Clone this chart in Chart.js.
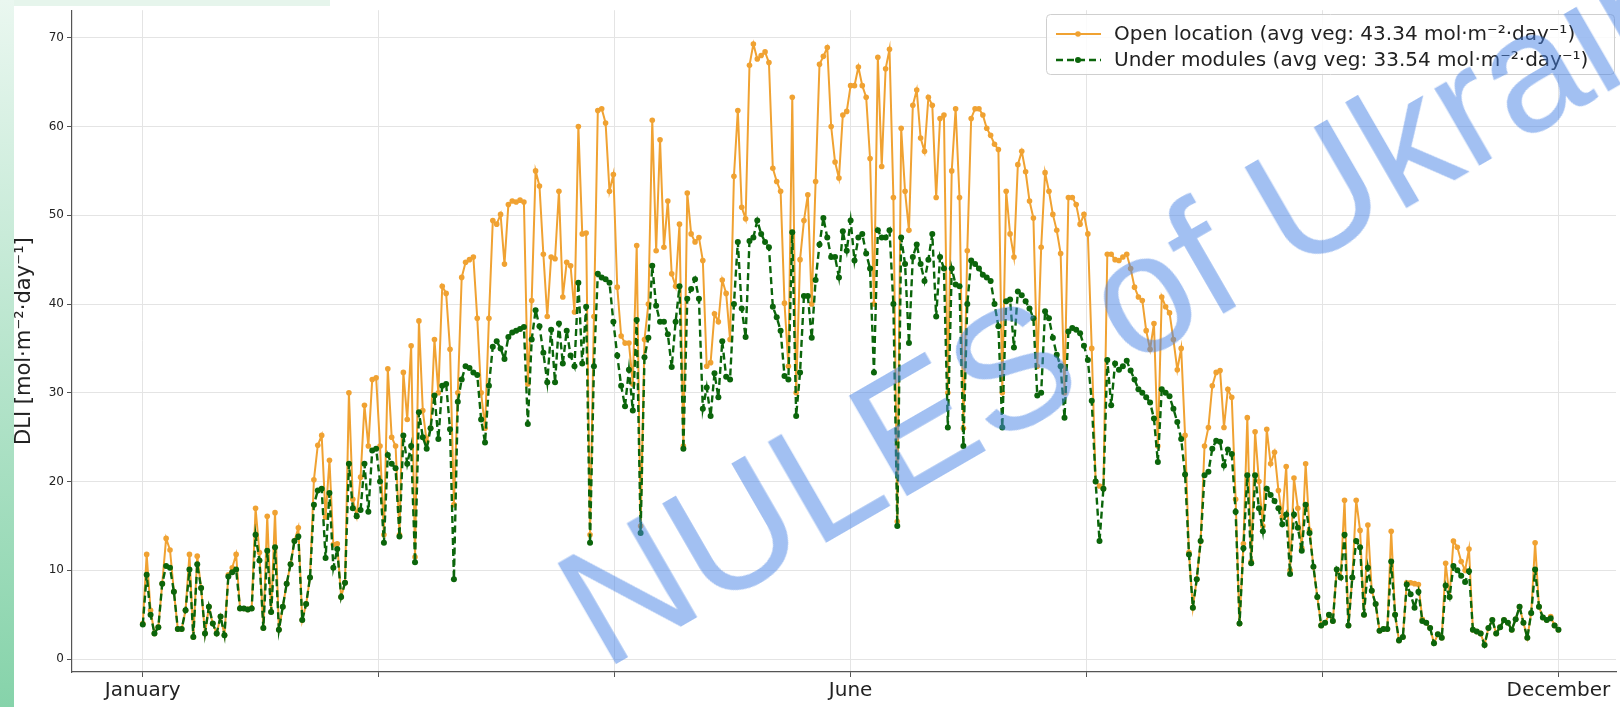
<!DOCTYPE html>
<html>
<head>
<meta charset="utf-8">
<script src="https://cdn.jsdelivr.net/npm/chart.js@4.4.1/dist/chart.umd.min.js"></script>
<style>
    html, body { margin: 0; padding: 0; background: #fff; }
    #wrap { position: relative; width: 1620px; height: 707px; overflow: hidden; background: #fff; }
    #dliChart { position: absolute; left: 0; top: 0; }
    #strip { position: absolute; left: 0; top: 0; width: 14px; height: 707px; background: linear-gradient(#eaf7f0, #86d3aa); }
    #band { position: absolute; left: 0; top: 0; width: 330px; height: 6px; background: #e6f5ec; }
    #mark {
        position: absolute; left: 604px; top: 529px;
        font: 168px "Liberation Sans", Arial, sans-serif; line-height: 1;
        color: rgba(70, 130, 230, 0.5); white-space: nowrap;
        transform-origin: 0 142px; transform: rotate(-30deg);
        pointer-events: none;
    }
</style>
</head>
<body>
<div id="wrap">
    <div id="band"></div>
    <div id="strip"></div>
    <canvas id="dliChart" width="1620" height="707"></canvas>
    <div id="mark">NULES of Ukraine</div>
</div>
<script>
// daily DLI, Jan 1 .. Dec 31
const openLocation = [
    4.0, 11.8, 5.5, 2.9, 3.6, 8.5, 13.6, 12.3, 7.6, 3.4,
    3.4, 5.5, 11.8, 2.5, 11.6, 8.0, 2.9, 5.9, 4.0, 2.9,
    4.8, 2.7, 9.5, 10.3, 11.8, 5.7, 5.7, 5.6, 5.7, 17.0,
    12.0, 3.5, 16.1, 5.3, 16.5, 3.3, 5.9, 8.5, 10.7, 13.3,
    14.8, 4.4, 6.2, 9.2, 20.2, 24.1, 25.2, 16.0, 22.4, 12.9,
    13.0, 7.0, 8.6, 30.0, 18.0, 16.1, 20.5, 28.6, 24.0, 31.5,
    31.7, 24.0, 14.0, 32.7, 25.0, 24.0, 14.0, 32.3, 27.0, 35.3,
    11.5, 38.1, 28.0, 24.5, 26.0, 36.0, 30.0, 42.0, 41.2, 34.9,
    17.4, 30.0, 43.0, 44.7, 45.0, 45.3, 38.4, 30.0, 26.0, 38.4,
    49.4, 49.0, 50.1, 44.5, 51.2, 51.6, 51.5, 51.7, 51.5, 31.0,
    40.4, 55.0, 53.3, 45.6, 38.6, 45.3, 45.1, 52.7, 40.8, 44.7,
    44.3, 39.1, 60.0, 47.9, 48.0, 14.0, 38.6, 61.8, 62.0, 60.4,
    52.7, 54.6, 41.9, 36.4, 35.6, 35.6, 31.0, 46.6, 15.0, 36.0,
    40.0, 60.7, 46.0, 58.5, 46.4, 51.6, 43.4, 42.0, 49.0, 24.0,
    52.5, 47.9, 47.0, 47.5, 44.9, 33.0, 33.4, 38.9, 38.0, 42.7,
    41.2, 36.0, 54.4, 61.8, 50.9, 49.6, 66.9, 69.3, 67.6, 68.0,
    68.4, 67.2, 55.3, 53.8, 52.7, 40.1, 33.0, 63.3, 30.0, 45.0,
    49.4, 52.3, 40.0, 53.8, 67.0, 67.9, 68.9, 60.0, 56.0, 54.2,
    61.3, 61.7, 64.6, 64.6, 66.7, 64.6, 63.3, 56.4, 40.0, 67.8,
    55.5, 66.5, 68.7, 52.0, 15.5, 59.8, 52.7, 48.3, 62.4, 64.1,
    58.7, 57.2, 63.3, 62.4, 52.0, 60.9, 61.3, 30.0, 55.0, 62.0,
    52.0, 26.0, 46.0, 60.9, 62.0, 62.0, 61.3, 59.8, 59.0, 58.0,
    57.4, 30.0, 52.7, 47.9, 45.3, 55.7, 57.2, 54.9, 51.6, 49.7,
    33.0, 46.4, 54.8, 52.7, 50.1, 48.3, 45.7, 30.0, 52.0, 52.0,
    51.2, 49.0, 50.1, 47.9, 35.0, 20.0, 19.5, 19.2, 45.6, 45.6,
    45.0, 44.9, 45.3, 45.6, 44.0, 41.9, 40.8, 40.4, 37.0, 34.9,
    37.8, 24.0, 40.8, 39.7, 39.0, 36.0, 32.6, 35.0, 25.2, 12.0,
    5.8, 9.0, 13.3, 24.0, 26.1, 30.8, 32.3, 32.5, 26.1, 30.4,
    29.5, 18.0, 4.0, 13.0, 27.2, 11.0, 25.6, 20.0, 15.0, 25.9,
    22.0, 23.3, 19.0, 16.0, 21.7, 10.0, 20.4, 17.0, 12.5, 22.0,
    14.5, 10.4, 7.0, 3.8, 4.1, 5.0, 4.3, 10.1, 9.2, 17.9,
    3.8, 9.2, 17.9, 14.5, 5.0, 15.1, 7.7, 6.2, 3.2, 3.4,
    3.4, 14.4, 5.0, 2.1, 2.5, 8.6, 8.6, 8.5, 8.4, 4.5,
    4.1, 3.5, 1.8, 2.8, 2.4, 10.8, 7.0, 13.3, 12.6, 11.0,
    10.0, 12.4, 3.3, 3.1, 2.9, 1.6, 3.5, 4.4, 2.9, 3.6,
    4.4, 4.1, 3.3, 4.5, 5.9, 4.1, 2.4, 5.2, 13.1, 5.9,
    4.7, 4.4, 4.8, 3.8, 3.3
];

const underModules = [
    3.9, 9.5, 5.0, 2.9, 3.6, 8.5, 10.5, 10.3, 7.6, 3.4,
    3.4, 5.5, 10.1, 2.5, 10.7, 8.0, 2.9, 5.9, 4.0, 2.9,
    4.8, 2.7, 9.3, 9.8, 10.1, 5.7, 5.7, 5.6, 5.7, 14.0,
    11.1, 3.5, 12.2, 5.3, 12.6, 3.3, 5.9, 8.5, 10.7, 13.3,
    13.8, 4.4, 6.2, 9.2, 17.4, 19.0, 19.2, 11.4, 18.7, 10.3,
    12.4, 7.0, 8.6, 22.0, 17.0, 16.1, 16.8, 22.0, 16.6, 23.5,
    23.7, 20.0, 13.1, 23.0, 22.0, 21.5, 13.8, 25.2, 22.0, 24.0,
    10.9, 27.8, 25.0, 23.7, 26.0, 29.7, 24.8, 30.8, 31.0, 25.9,
    9.0, 29.0, 31.5, 33.0, 32.8, 32.3, 32.0, 27.0, 24.4, 30.8,
    35.2, 35.8, 35.0, 33.8, 36.3, 36.8, 37.0, 37.2, 37.4, 26.5,
    36.0, 39.3, 37.5, 34.5, 31.2, 37.1, 31.2, 37.8, 33.3, 37.0,
    34.2, 33.0, 42.4, 33.3, 39.7, 13.1, 33.0, 43.4, 43.0, 42.8,
    42.4, 38.0, 34.2, 30.8, 28.5, 32.6, 28.0, 38.2, 14.2, 34.0,
    36.2, 44.3, 39.8, 38.0, 38.0, 36.6, 32.9, 38.0, 42.0, 23.7,
    40.6, 41.7, 42.8, 40.6, 28.2, 30.6, 27.4, 32.2, 29.5, 35.8,
    31.8, 31.5, 40.0, 47.0, 39.5, 36.3, 47.1, 47.5, 49.4, 47.9,
    47.0, 46.4, 39.7, 38.5, 37.0, 31.9, 31.5, 48.1, 27.4, 32.3,
    40.9, 40.9, 36.2, 42.7, 46.7, 49.7, 47.5, 45.3, 45.3, 43.0,
    48.2, 46.0, 49.4, 44.9, 47.5, 47.9, 45.7, 44.0, 32.3, 48.3,
    47.5, 47.5, 48.3, 40.0, 15.0, 47.5, 44.5, 35.6, 45.3, 46.7,
    44.5, 42.6, 45.0, 47.9, 38.6, 45.3, 44.0, 26.1, 44.0, 42.2,
    42.0, 24.0, 40.0, 44.9, 44.5, 44.0, 43.3, 43.0, 42.6, 40.0,
    37.5, 26.1, 40.3, 40.5, 35.1, 41.4, 41.0, 40.3, 39.5, 38.4,
    29.7, 30.0, 39.2, 38.4, 36.2, 34.3, 33.0, 27.2, 36.9, 37.3,
    37.1, 36.7, 35.3, 33.7, 29.1, 20.0, 13.3, 19.2, 33.7, 28.6,
    33.3, 32.6, 33.0, 33.6, 32.5, 31.5, 30.4, 30.0, 29.5, 28.9,
    27.1, 22.2, 30.4, 30.0, 29.6, 28.2, 26.7, 24.8, 20.8, 11.8,
    5.8, 9.0, 13.3, 20.7, 21.1, 23.7, 24.6, 24.5, 21.8, 23.6,
    23.1, 16.6, 4.0, 12.5, 20.7, 10.8, 20.7, 17.0, 14.4, 19.2,
    18.5, 17.8, 17.0, 15.2, 16.3, 9.6, 16.3, 14.8, 12.2, 17.4,
    14.2, 10.4, 7.0, 3.8, 4.1, 5.0, 4.3, 10.1, 9.2, 14.0,
    3.8, 9.2, 13.3, 12.6, 5.0, 10.3, 7.7, 6.2, 3.2, 3.4,
    3.4, 11.0, 5.0, 2.1, 2.5, 8.4, 7.3, 5.8, 7.6, 4.3,
    4.1, 3.5, 1.8, 2.8, 2.4, 8.3, 7.0, 10.5, 10.0, 9.4,
    8.7, 9.9, 3.3, 3.1, 2.9, 1.6, 3.5, 4.4, 2.9, 3.6,
    4.4, 4.1, 3.3, 4.5, 5.9, 4.1, 2.4, 5.2, 10.1, 5.9,
    4.7, 4.4, 4.6, 3.8, 3.3
];

const seriesLabels = [
    'Open location (avg veg: 43.34 mol·m⁻²·day⁻¹)',
    'Under modules (avg veg: 33.54 mol·m⁻²·day⁻¹)'
];

// tick positions in day-of-year, only three are labelled
const xTickDays = [0, 60.67, 121.33, 182, 242.67, 303.33, 364];
const xTickLabels = ['January', '', '', 'June', '', '', 'December'];

const ORANGE = '#f0a232';
const GREEN = '#0b650b';
const FONT = '"DejaVu Sans", sans-serif';

function toPoints(values) {
    return values.map((v, i) => ({ x: i, y: v }));
}

// legend box drawn inside the plot, top right
const boxLegend = {
    id: 'boxLegend',
    afterDraw(chart) {
        const ctx = chart.ctx;
        const x = 1046, y = 14, w = 568, h = 60;
        ctx.save();
        ctx.fillStyle = 'rgba(255,255,255,0.85)';
        ctx.strokeStyle = '#cfcfcf';
        ctx.lineWidth = 1;
        ctx.beginPath();
        ctx.roundRect(x + 0.5, y + 0.5, w, h, 4);
        ctx.fill();
        ctx.stroke();

        const rows = [
            { label: seriesLabels[0], color: ORANGE, dash: [], width: 2, r: 2.8, cy: y + 20 },
            { label: seriesLabels[1], color: GREEN, dash: [7, 4], width: 2.4, r: 3, cy: y + 46 }
        ];
        ctx.font = '20px ' + FONT;
        ctx.textBaseline = 'middle';
        rows.forEach((r) => {
            ctx.strokeStyle = r.color;
            ctx.lineWidth = r.width;
            ctx.setLineDash(r.dash);
            ctx.beginPath();
            ctx.moveTo(x + 10, r.cy);
            ctx.lineTo(x + 55, r.cy);
            ctx.stroke();
            ctx.setLineDash([]);
            ctx.fillStyle = r.color;
            ctx.beginPath();
            ctx.arc(x + 32, r.cy, r.r, 0, Math.PI * 2);
            ctx.fill();
            ctx.fillStyle = '#222';
            ctx.fillText(r.label, x + 68, r.cy + 1);
        });
        ctx.restore();
    }
};

const ctx = document.getElementById('dliChart').getContext('2d');
new Chart(ctx, {
    type: 'line',
    data: {
        datasets: [
            {
                label: seriesLabels[0],
                data: toPoints(openLocation),
                borderColor: ORANGE,
                backgroundColor: ORANGE,
                borderWidth: 2,
                pointRadius: 2.8,
                pointBorderWidth: 0,
                tension: 0,
                order: 2
            },
            {
                label: seriesLabels[1],
                data: toPoints(underModules),
                borderColor: GREEN,
                backgroundColor: GREEN,
                borderWidth: 2.4,
                borderDash: [7, 4],
                pointRadius: 3,
                pointBorderWidth: 0,
                tension: 0,
                order: 1
            }
        ]
    },
    options: {
        responsive: false,
        animation: false,
        layout: { padding: { left: 12, top: 4, right: 0, bottom: 0 } },
        plugins: {
            legend: { display: false },
            tooltip: { enabled: false }
        },
        scales: {
            x: {
                type: 'linear',
                min: -18.2,
                max: 378.8,
                afterBuildTicks: (scale) => {
                    scale.ticks = xTickDays.map((d) => ({ value: d }));
                },
                afterFit: (scale) => { scale.height = 35; },
                ticks: {
                    autoSkip: false,
                    maxRotation: 0,
                    padding: 2,
                    color: '#222',
                    font: { size: 20, family: FONT },
                    callback: (value, index) => xTickLabels[index]
                },
                grid: { color: '#e4e4e4', tickLength: 5, tickColor: '#555' },
                border: { color: '#555', width: 1.2 }
            },
            y: {
                min: -1.45,
                max: 73.1,
                afterFit: (scale) => { scale.width = 60; },
                ticks: {
                    stepSize: 10,
                    includeBounds: false,
                    padding: 3,
                    color: '#222',
                    font: { size: 12, family: FONT }
                },
                grid: { color: '#e4e4e4', tickLength: 5, tickColor: '#555' },
                border: { color: '#555', width: 1.2 },
                title: {
                    display: true,
                    text: 'DLI [mol·m⁻²·day⁻¹]',
                    color: '#222',
                    padding: 0,
                    font: { size: 21, family: FONT }
                }
            }
        }
    },
    plugins: [boxLegend]
});
</script>
</body>
</html>
